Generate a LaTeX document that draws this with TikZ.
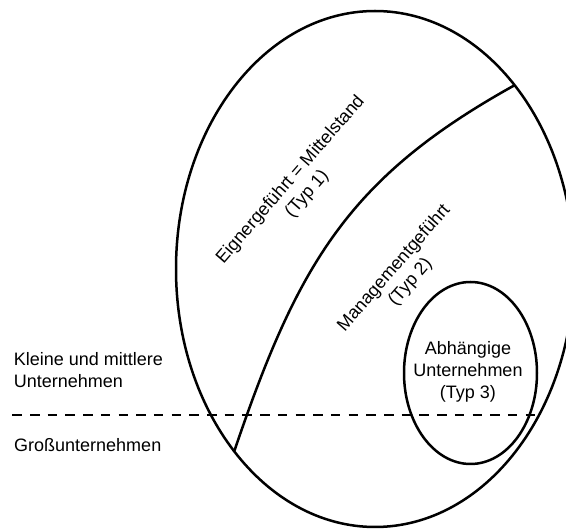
\documentclass[tikz,border=0pt]{standalone}
\usepackage{fontspec}
\setmainfont{Liberation Sans}
\usetikzlibrary{shapes.geometric}
\begin{document}
\begin{tikzpicture}[x=1pt, y=-1pt,
  outline/.style={draw=black, line width=2.5pt, inner sep=0pt},
  txt/.style={font=\fontsize{18}{21.7}\selectfont, inner sep=0pt, align=center},
  sideTxt/.style={font=\fontsize{18}{21.7}\selectfont, inner sep=0pt, align=left},
  divider/.style={line width=2.9pt, dash pattern=on 9.5pt off 8.2pt}]
\useasboundingbox (0,0) rectangle (566,529);

% all enterprises
\node[outline, ellipse, minimum width=398pt, minimum height=516pt] (all) at (375,269) {};

% boundary between owner-managed and manager-managed firms
\coordinate (bndLow) at (234,452);
\coordinate (bndHigh) at (515,85);
\draw[line width=2.5pt] (bndLow) .. controls (298,263) and (349,177) .. (bndHigh);

% dependent enterprises
\node[outline, ellipse, minimum width=133pt, minimum height=182pt] (dep) at (470.5,373) {};

% size threshold
\coordinate (divL) at (12.3,415);
\coordinate (divR) at (535.1,415);
\draw[divider] (divL) -- (divR);

% labels
\node[txt, rotate=49] (typ1) at (299,186.9) {Eignergeführt = Mittelstand\\(Typ 1)};
\node[txt, rotate=49] (typ2) at (402.4,275.3) {Managementgeführt\\(Typ 2)};
\node[txt] (typ3) at (468,371.9) {Abhängige\\Unternehmen\\(Typ 3)};
\node[sideTxt, anchor=west] (kmu) at (13.6,370.4) {Kleine und mittlere\\Unternehmen};
\node[sideTxt, anchor=base west] (gross) at (14,451.7) {Großunternehmen};
\end{tikzpicture}
\end{document}
